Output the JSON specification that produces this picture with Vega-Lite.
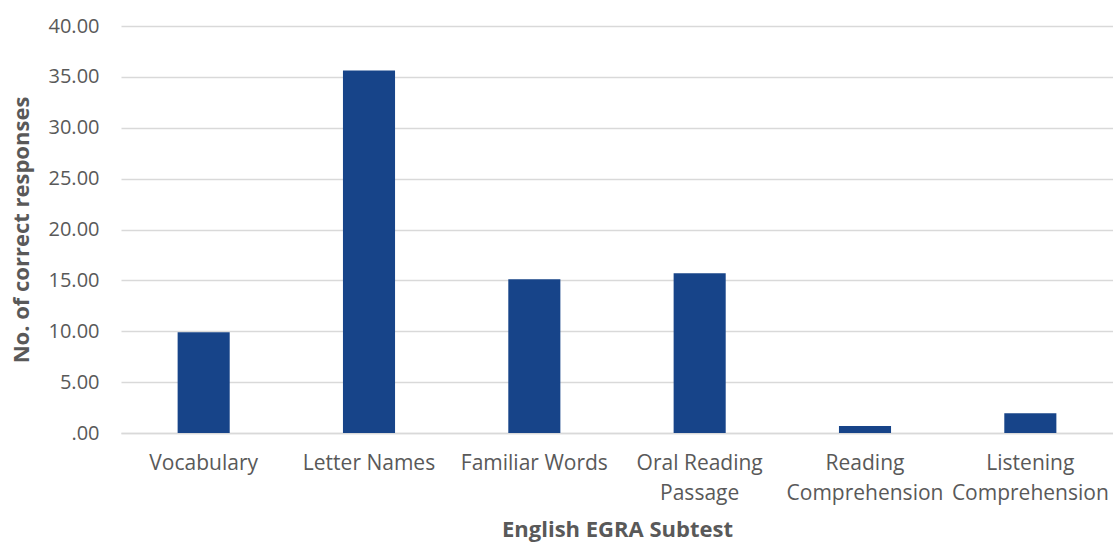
{
  "$schema": "https://vega.github.io/schema/vega-lite/v6.json",
  "width": 992,
  "height": 407,
  "autosize": {"type": "none"},
  "padding": {"left": 121, "top": 26, "right": 0, "bottom": 110},
  "background": "white",
  "data": {
    "values": [
      {"subtest": "Vocabulary", "mean": 9.9},
      {"subtest": "Letter Names", "mean": 35.63},
      {"subtest": "Familiar Words", "mean": 15.11},
      {"subtest": "Oral Reading Passage", "mean": 15.7},
      {"subtest": "Reading Comprehension", "mean": 0.69},
      {"subtest": "Listening Comprehension", "mean": 1.94}
    ]
  },
  "mark": {"type": "bar", "color": "#174489"},
  "encoding": {
    "x": {
      "field": "subtest",
      "type": "nominal",
      "sort": null,
      "scale": {"paddingInner": 0.685, "paddingOuter": 0.3425},
      "axis": {
        "title": "English EGRA Subtest",
        "titleFont": "Open Sans",
        "titleFontSize": 22,
        "titleFontWeight": "bold",
        "titleColor": "#595959",
        "titlePadding": 16,
        "labelFont": "Open Sans",
        "labelFontSize": 21,
        "labelColor": "#595959",
        "labelAngle": 0,
        "labelPadding": 19,
        "labelLineHeight": 30,
        "labelOverlap": false,
        "labelExpr": "datum.value == 'Oral Reading Passage' ? ['Oral Reading', 'Passage'] : datum.value == 'Reading Comprehension' ? ['Reading', 'Comprehension'] : datum.value == 'Listening Comprehension' ? ['Listening', 'Comprehension'] : datum.value",
        "ticks": false,
        "domainColor": "#d9d9d9",
        "domainWidth": 1.5
      }
    },
    "y": {
      "field": "mean",
      "type": "quantitative",
      "scale": {"domain": [0, 40], "nice": false},
      "axis": {
        "title": "No. of correct responses",
        "titleFont": "Open Sans",
        "titleFontSize": 22,
        "titleFontWeight": "bold",
        "titleColor": "#595959",
        "titlePadding": 15,
        "labelFont": "Open Sans",
        "labelFontSize": 20,
        "labelColor": "#595959",
        "labelPadding": 22,
        "values": [0, 5, 10, 15, 20, 25, 30, 35, 40],
        "labelExpr": "datum.value == 0 ? '.00' : format(datum.value, '.2f')",
        "ticks": false,
        "domain": false,
        "gridColor": "#d9d9d9",
        "gridWidth": 1.5
      }
    }
  },
  "config": {"view": {"stroke": null}}
}
